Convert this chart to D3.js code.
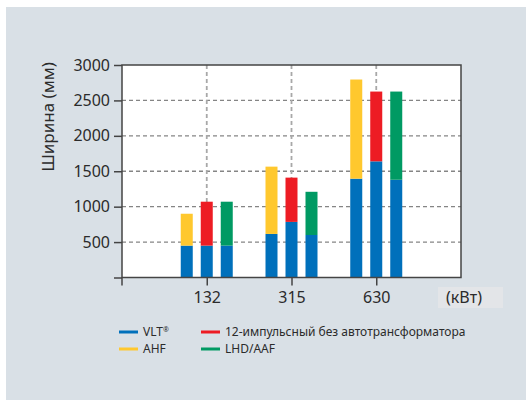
<!DOCTYPE html>
<html>
<head>
<meta charset="utf-8">
<script src="https://cdn.jsdelivr.net/npm/d3@7"></script>
<style>
  body { margin: 0; background: #fff; }
  text { font-family: "Noto Sans", sans-serif; fill: #2b2b2b; }
</style>
</head>
<body>
<svg id="chart" width="526" height="400"></svg>
<script>
// power classes (kW)
var powers = ["132", "315", "630"];
var yTicks = [500, 1000, 1500, 2000, 2500, 3000];

// each group has three bars: VLT base + filter on top
var vltUnderAhf   = [450, 615, 1395];
var ahf           = [450, 950, 1400];
var vltUnderPulse = [450, 785, 1640];
var pulse12       = [620, 625, 985];
var vltUnderLhd   = [450, 600, 1380];
var lhd           = [620, 610, 1245];

var bars = [
  {key: "ahf",   base: vltUnderAhf,   top: ahf,     color: "#ffc82e"},
  {key: "pulse", base: vltUnderPulse, top: pulse12, color: "#ed1c24"},
  {key: "lhd",   base: vltUnderLhd,   top: lhd,     color: "#009a63"}
];
var blue = "#0070bb";

var legend = [
  {label: "VLT", sup: "®", color: blue, col: 0, row: 0},
  {label: "AHF", color: "#ffc82e", col: 0, row: 1},
  {label: "12-импульсный без автотрансформатора", color: "#ed1c24", col: 1, row: 0},
  {label: "LHD/AAF", color: "#009a63", col: 1, row: 1}
];

var svg = d3.select("#chart");
var pLeft = 122, pRight = 461, pTop = 65, pBottom = 277.5;

svg.append("rect").attr("x", 6).attr("y", 7).attr("width", 520).attr("height", 393)
  .attr("fill", "#d9e0e6");

var x = d3.scalePoint().domain(powers).range([pLeft, pRight]).padding(1);
var xi = d3.scaleBand().domain(bars.map(function(b) { return b.key; }))
  .range([-30, 30]).paddingInner(0.4).paddingOuter(0.2);
var y = d3.scaleLinear().domain([0, 3000]).range([pBottom, pTop]);

svg.append("rect").attr("x", pLeft).attr("y", pTop)
  .attr("width", pRight - pLeft).attr("height", pBottom - pTop).attr("fill", "#fff");

// grid
var g = svg.append("g");
g.selectAll(".hg").data(yTicks.slice(0, -1)).enter().append("line")
  .attr("x1", pLeft).attr("x2", pRight)
  .attr("y1", function(d) { return y(d); }).attr("y2", function(d) { return y(d); })
  .attr("stroke", "#858585").attr("stroke-width", 1.3).attr("stroke-dasharray", "4,3");
g.selectAll(".vg").data(powers).enter().append("line")
  .attr("x1", function(d) { return x(d); }).attr("x2", function(d) { return x(d); })
  .attr("y1", pTop).attr("y2", pBottom)
  .attr("stroke", "#a8a8a8").attr("stroke-width", 1.8).attr("stroke-dasharray", "4,3");

// bars
bars.forEach(function(b) {
  var grp = svg.append("g");
  grp.selectAll(".base").data(powers).enter().append("rect")
    .attr("x", function(d) { return x(d) + xi(b.key); })
    .attr("width", xi.bandwidth())
    .attr("y", function(d, i) { return y(b.base[i]); })
    .attr("height", function(d, i) { return y(0) - y(b.base[i]); })
    .attr("fill", blue);
  grp.selectAll(".top").data(powers).enter().append("rect")
    .attr("x", function(d) { return x(d) + xi(b.key); })
    .attr("width", xi.bandwidth())
    .attr("y", function(d, i) { return y(b.base[i] + b.top[i]); })
    .attr("height", function(d, i) { return y(b.base[i]) - y(b.base[i] + b.top[i]); })
    .attr("fill", b.color);
});

// frame
svg.append("rect").attr("x", pLeft).attr("y", pTop)
  .attr("width", pRight - pLeft).attr("height", pBottom - pTop)
  .attr("fill", "none").attr("stroke", "#444").attr("stroke-width", 1.5);

// y axis
var yAxis = svg.append("g").attr("transform", "translate(" + pLeft + ",0)")
  .call(d3.axisLeft(y).tickValues([0].concat(yTicks)).tickSize(8).tickPadding(4)
    .tickFormat(function(d) { return d === 0 ? "" : d; }));
yAxis.select(".domain").remove();
yAxis.selectAll(".tick line").attr("stroke", "#444").attr("stroke-width", 1.5);
yAxis.selectAll(".tick text").style("font-size", "16px").attr("fill", "#2b2b2b");

// x axis
var xAxis = svg.append("g").attr("transform", "translate(0," + pBottom + ")")
  .call(d3.axisBottom(x).tickSize(8).tickPadding(6));
xAxis.select(".domain").remove();
xAxis.selectAll(".tick line").attr("stroke", "#444").attr("stroke-width", 1.5);
xAxis.selectAll(".tick text").style("font-size", "16px").attr("fill", "#2b2b2b");
svg.append("line").attr("x1", pLeft).attr("x2", pLeft).attr("y1", pBottom).attr("y2", pBottom + 8)
  .attr("stroke", "#444").attr("stroke-width", 1.5);

// unit
svg.append("rect").attr("x", 438).attr("y", 287).attr("width", 65).attr("height", 21)
  .attr("fill", "#e3e5e8");
svg.append("text").attr("x", 464).attr("y", 303).attr("text-anchor", "middle")
  .style("font-size", "16px").text("(кВт)");

svg.append("text").attr("transform", "translate(54,117) rotate(-90)")
  .attr("text-anchor", "middle").style("font-size", "17px").text("Ширина (мм)");

// legend
var lg = svg.selectAll(".lg").data(legend).enter().append("g")
  .attr("transform", function(d) {
    return "translate(" + (119 + d.col * 82) + "," + (332 + d.row * 17) + ")";
  });
lg.append("line").attr("x1", 0).attr("x2", 19).attr("stroke", function(d) { return d.color; })
  .attr("stroke-width", 3);
var lt = lg.append("text").attr("x", 24).attr("y", 4).style("font-size", "12px")
  .text(function(d) { return d.label; });
lt.filter(function(d) { return d.sup; }).append("tspan")
  .attr("dy", -4).style("font-size", "7px").text(function(d) { return d.sup; });
</script>
</body>
</html>
